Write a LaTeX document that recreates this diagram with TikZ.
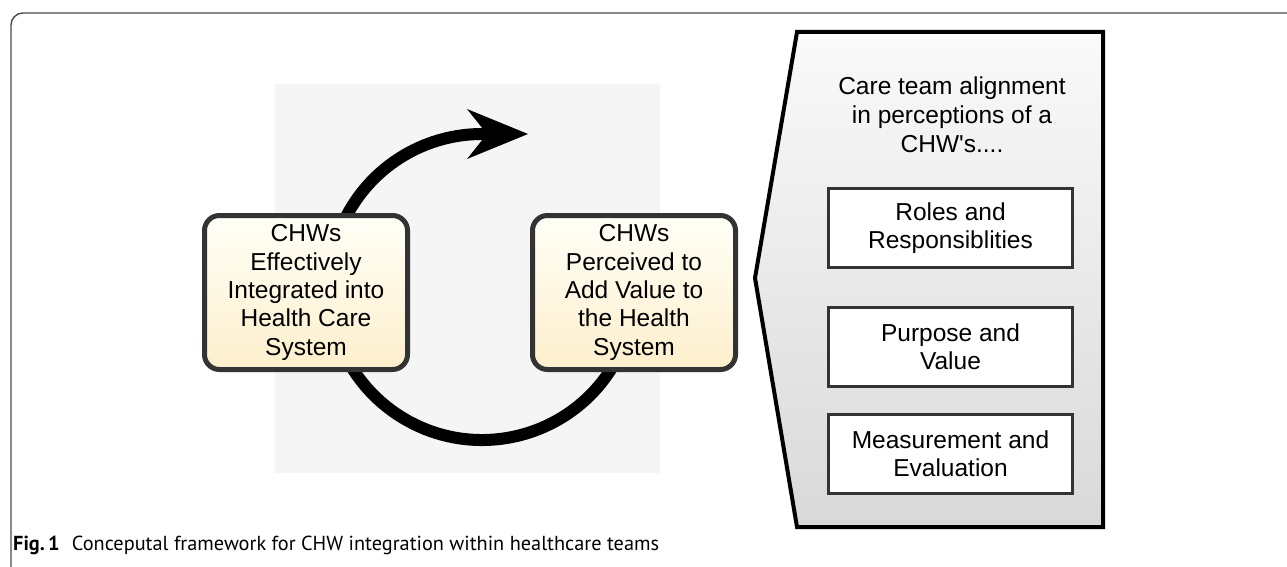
\documentclass[tikz,border=0pt]{standalone}
\usepackage{fontspec}
\setmainfont{Liberation Sans}
\newfontfamily\capfont{PT Sans}
\begin{document}
\begin{tikzpicture}[x=1pt,y=-1pt,
  cyclebox/.style={draw=black!80, line width=5pt, rounded corners=15pt,
    top color=yellow!3!white, bottom color={rgb,255:red,253;green,239;blue,204},
    minimum width=203pt, minimum height=154pt, inner sep=0pt,
    align=center, font=\fontsize{24.5}{28.3}\selectfont},
  aspectbox/.style={draw=black!80, line width=3pt, fill=white,
    minimum width=244pt, minimum height=79pt, inner sep=0pt,
    align=center, font=\fontsize{24.5}{28.3}\selectfont}]
\useasboundingbox (0,0) rectangle (1287,567);
\fill[white] (0,0) rectangle (1287,567);

% figure frame
\draw[black!70, line width=1.4pt] (11,567) -- (11,25) arc[start angle=180, end angle=270, radius=12] -- (1287,13);

% light backdrop behind the cycle
\fill[black!4] (275,84) rectangle (660,473);

% cycle arrow
\draw[line width=12pt] (614.5,363.5) arc[start angle=30, end angle=270, radius=153] -- (490,134);
\fill (528,134) -- (467,109) -- (487,134) -- (467,159) -- cycle;

% the two states
\node[cyclebox] (integrated) at (306,292.5) {CHWs\\Effectively\\Integrated into\\Health Care\\System};
\node[cyclebox] (value) at (634,292.5) {CHWs\\Perceived to\\Add Value to\\the Health\\System};

% alignment panel
\shade[top color=black!2, bottom color=black!15, draw=black, line width=4pt]
  (797,32) -- (1103,32) -- (1103,527) -- (797,527) -- (755,278) -- cycle;
\node[align=center, font=\fontsize{24.5}{29}\selectfont] (title) at (952,115)
  {Care team alignment\\in perceptions of a\\CHW\textquotesingle s....};
\node[aspectbox] (roles) at (950.5,228) {Roles and\\Responsiblities};
\node[aspectbox] (purpose) at (950.5,346.5) {Purpose and\\Value};
\node[aspectbox] (measure) at (950.5,453.5) {Measurement and\\Evaluation};

% caption
\node[anchor=west, inner sep=0pt, font=\capfont\fontsize{20.3}{22}\selectfont] (caption) at (13,545)
  {\textbf{Fig.\,1}\hspace{0.6em}Conceputal framework for CHW integration within healthcare teams};
\end{tikzpicture}
\end{document}
